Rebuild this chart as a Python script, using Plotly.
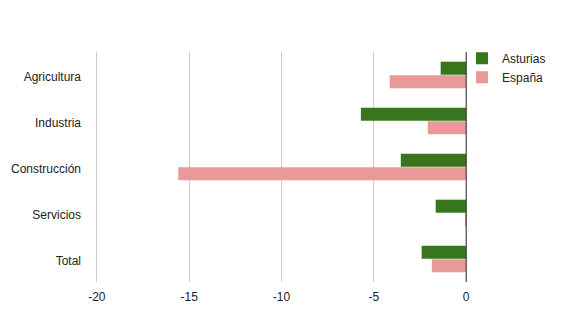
import plotly.graph_objects as go

sectors = ["Agricultura", "Industria", "Construcción", "Servicios", "Total"]
asturias = [-1.38, -5.70, -3.54, -1.65, -2.41]
espana = [-4.14, -2.08, -15.59, -0.03, -1.86]
tick_vals = [-20, -15, -10, -5, 0]

fig = go.Figure()
fig.add_trace(go.Bar(y=sectors, x=asturias, orientation="h", name="Asturias",
                     marker=dict(color="#38761d", line=dict(width=0))))
fig.add_trace(go.Bar(y=sectors, x=espana, orientation="h", name="España",
                     marker=dict(color="#ea9999", line=dict(width=0))))

fig.update_layout(
    width=565, height=325,
    margin=dict(l=95.15, r=96.65, t=52, b=43, autoexpand=False),
    paper_bgcolor="white", plot_bgcolor="white",
    font=dict(family="Liberation Sans, Arial, sans-serif", size=12, color="#222222"),
    barmode="group", bargap=0.41, bargroupgap=0.04,
    showlegend=True,
    legend=dict(x=0.984, xanchor="left", y=1.036, yanchor="top",
                font=dict(size=12, color="#222222"),
                bgcolor="rgba(0,0,0,0)", itemwidth=30, tracegroupgap=0),
    xaxis=dict(range=[-20.1, 0.1], tickvals=tick_vals, ticktext=[str(v) for v in tick_vals],
               showgrid=True, gridcolor="#cccccc", gridwidth=1,
               zeroline=False, showline=False, ticks="", ticklabelstandoff=6,
               fixedrange=True),
    yaxis=dict(autorange="reversed", showgrid=False, zeroline=False, showline=False,
               ticks="", ticklabelstandoff=13, ticklabelshift=-2, automargin=False),
)
# dark baseline at zero
fig.add_shape(type="line", xref="x", yref="paper", x0=0, x1=0, y0=0, y1=1,
              line=dict(color="#333333", width=1))

fig.write_html("out.html")
